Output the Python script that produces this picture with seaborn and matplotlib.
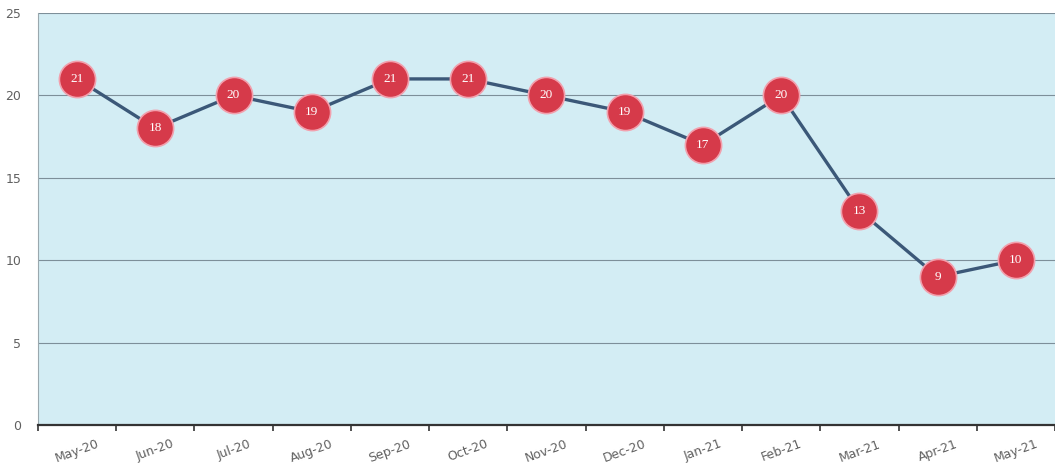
import numpy as np
import pandas as pd
import seaborn as sns
import matplotlib.pyplot as plt

# -----------------------------
# Data
# -----------------------------
months = ["May-20", "Jun-20", "Jul-20", "Aug-20", "Sep-20", "Oct-20", "Nov-20",
          "Dec-20", "Jan-21", "Feb-21", "Mar-21", "Apr-21", "May-21"]
counts = [21, 18, 20, 19, 21, 21, 20, 19, 17, 20, 13, 9, 10]
y_ticks = [0, 5, 10, 15, 20, 25]

df = pd.DataFrame({"month": months, "count": counts})
df["pos"] = range(len(months))

# -----------------------------
# Plot
# -----------------------------
sns.set_style("white")
fig = plt.figure(figsize=(10.55, 4.73), dpi=100)
ax = fig.add_axes([0.036, 0.1015, 0.964, 0.871])
ax.set_facecolor("#d3edf4")

for y in y_ticks[1:]:
    ax.axhline(y, color="#7d8f99", lw=0.8, zorder=1)

sns.lineplot(x="pos", y="count", data=df, color="#3b5878", lw=2.4,
             ax=ax, zorder=2)
sns.scatterplot(x="pos", y="count", data=df, s=680, color="#d63a4a",
                edgecolor="#f2a0ad", linewidth=1.2, ax=ax, zorder=3)

for x, y in zip(df["pos"], df["count"]):
    ax.text(x, y, str(y), ha="center", va="center", color="white",
            fontsize=9.5, family="Liberation Serif", zorder=4)

ax.set_xlim(-0.5, len(months) - 0.5)
ax.set_ylim(0, 25)
ax.set_yticks(y_ticks)
ax.set_yticklabels([str(v) for v in y_ticks], color="#606060", fontsize=9)
ax.set_xticks(df["pos"])
ax.set_xticklabels(months, rotation=20, color="#606060", fontsize=9)
ax.set_xticks(np.arange(-0.5, len(months), 1), minor=True)
ax.tick_params(axis="x", which="major", bottom=False, length=0, pad=9)
ax.tick_params(axis="x", which="minor", bottom=True, length=4, width=1.2,
               color="#333333")
ax.tick_params(axis="y", length=0, pad=12)
ax.set_xlabel("")
ax.set_ylabel("")

for side in ["top", "right"]:
    ax.spines[side].set_visible(False)
ax.spines["left"].set_color("#9aa8ae")
ax.spines["left"].set_linewidth(0.8)
ax.spines["bottom"].set_color("#333333")
ax.spines["bottom"].set_linewidth(1.6)

plt.savefig("out.png", dpi=100)
plt.close()
